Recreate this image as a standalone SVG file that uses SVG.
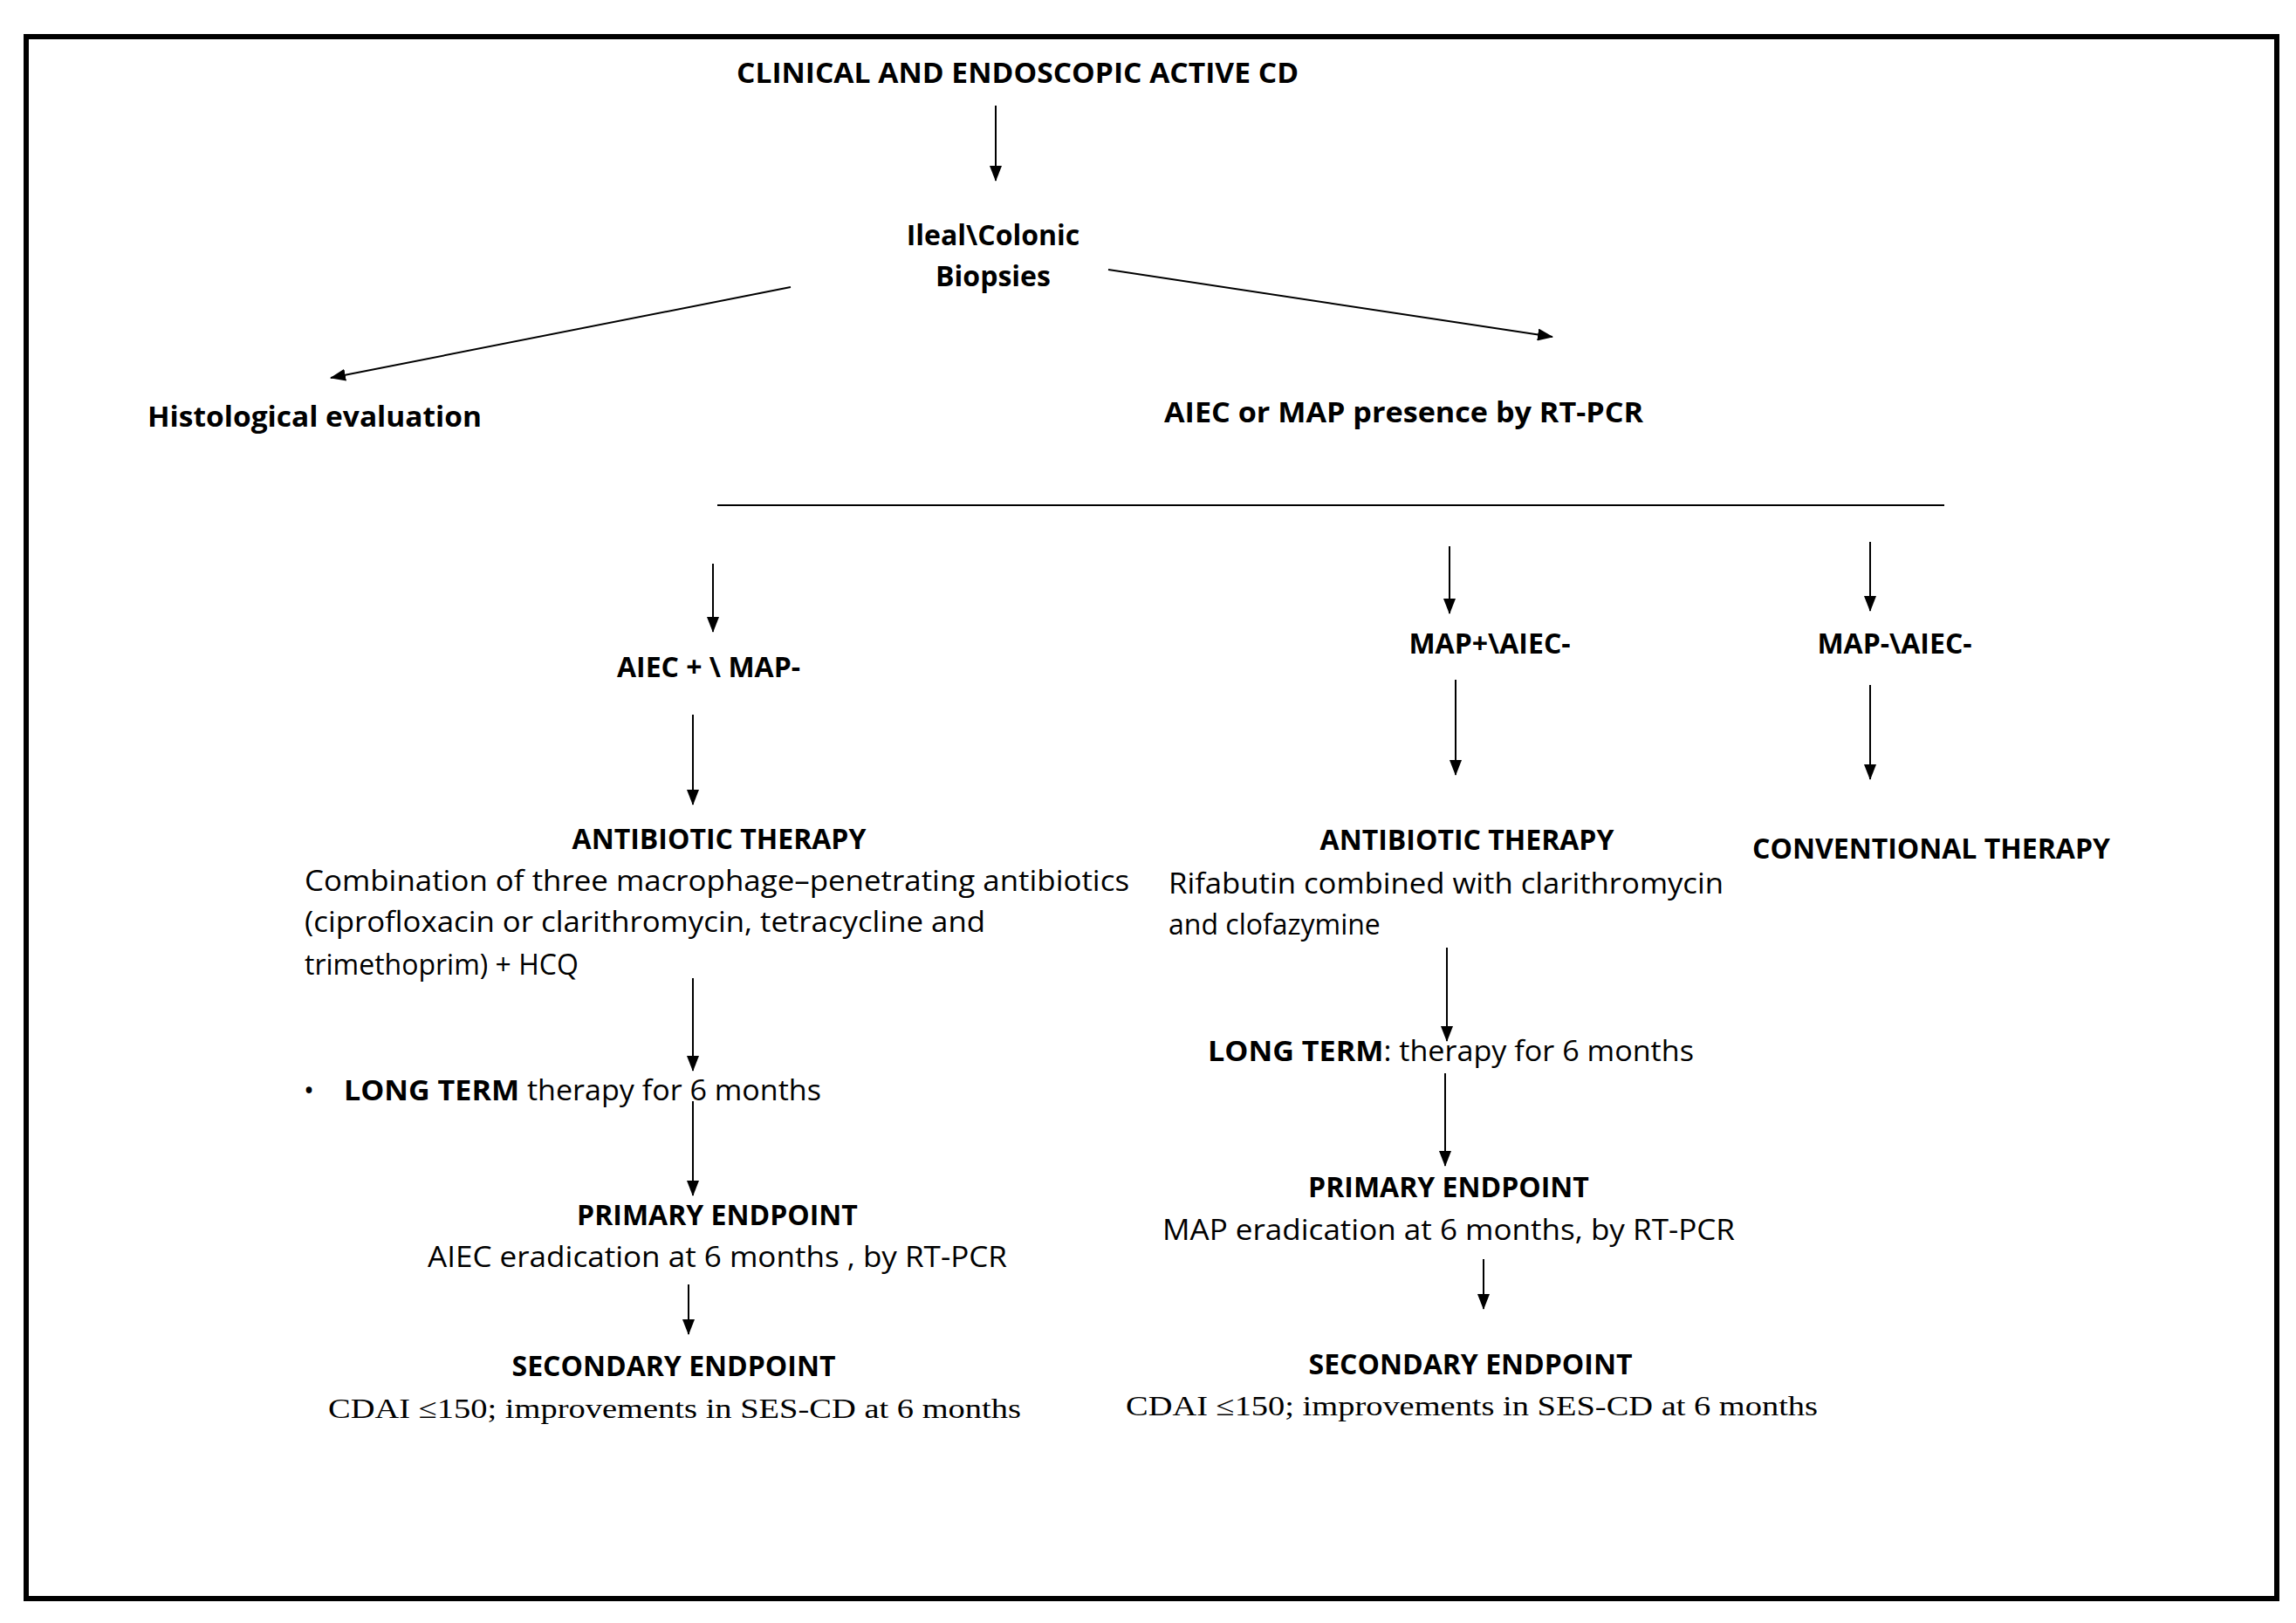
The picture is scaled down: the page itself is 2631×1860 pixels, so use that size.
<svg xmlns="http://www.w3.org/2000/svg" width="2631" height="1860" viewBox="0 0 2631 1860">
<defs>
<marker id="ah" markerWidth="18" markerHeight="14" refX="17" refY="7" orient="auto" markerUnits="userSpaceOnUse" viewBox="0 0 18 14"><path d="M0,0 L18,7 L0,14 z" fill="#000"/></marker>
</defs>
<style>
text{font-family:"Open Sans","Liberation Sans",sans-serif;font-size:32px;fill:#000}
.b{font-weight:bold}
.s{font-family:"Liberation Serif","Times New Roman",serif}
.c{stroke:#000;stroke-width:2;fill:none;marker-end:url(#ah)}
</style>
<rect width="2631" height="1860" fill="#fff"/>
<rect x="30" y="42" width="2579" height="1790" fill="none" stroke="#000" stroke-width="6"/>
<g id="connectors">
<path class="c" d="M1141,121 V207"/>
<path class="c" d="M906,329 L379,433"/>
<path class="c" d="M1270,309 L1779,386"/>
<path d="M822,579 H2228" stroke="#000" stroke-width="2"/>
<path class="c" d="M817,646 V724"/>
<path class="c" d="M1661,626 V703"/>
<path class="c" d="M2143,621 V700"/>
<path class="c" d="M794,819 V922"/>
<path class="c" d="M1668,779 V888"/>
<path class="c" d="M2143,785 V893"/>
<path class="c" d="M794,1121 V1227"/>
<path class="c" d="M794,1262 V1370"/>
<path class="c" d="M1658,1086 V1193"/>
<path class="c" d="M1656,1230 V1336"/>
<path class="c" d="M789,1472 V1529"/>
<path class="c" d="M1700,1443 V1500"/>
</g>
<g id="n-title"><text class="b" x="1166" y="95" text-anchor="middle" textLength="644" lengthAdjust="spacingAndGlyphs">CLINICAL AND ENDOSCOPIC ACTIVE CD</text></g>
<g id="n-biopsies"><text class="b" x="1138" y="281" text-anchor="middle">Ileal\Colonic</text><text class="b" x="1138" y="328" text-anchor="middle">Biopsies</text></g>
<g id="n-histo"><text class="b" x="169" y="489" textLength="383" lengthAdjust="spacingAndGlyphs">Histological evaluation</text></g>
<g id="n-pcr"><text class="b" x="1334" y="484" textLength="549" lengthAdjust="spacingAndGlyphs">AIEC or MAP presence by RT-PCR</text></g>
<g id="n-aiec"><text class="b" x="812" y="776" text-anchor="middle">AIEC + \ MAP-</text></g>
<g id="n-map"><text class="b" x="1707" y="749" text-anchor="middle">MAP+\AIEC-</text></g>
<g id="n-neg"><text class="b" x="2171" y="749" text-anchor="middle">MAP-\AIEC-</text></g>
<g id="n-abx1">
<text class="b" x="824" y="973" text-anchor="middle">ANTIBIOTIC THERAPY</text>
<text x="349" y="1021" textLength="945" lengthAdjust="spacingAndGlyphs">Combination of three macrophage–penetrating antibiotics</text>
<text x="349" y="1068" textLength="780" lengthAdjust="spacingAndGlyphs">(ciprofloxacin or clarithromycin, tetracycline and</text>
<text x="349" y="1117">trimethoprim)  + HCQ</text>
</g>
<g id="n-abx2">
<text class="b" x="1681" y="974" text-anchor="middle">ANTIBIOTIC THERAPY</text>
<text x="1339" y="1024" textLength="636" lengthAdjust="spacingAndGlyphs">Rifabutin combined  with clarithromycin</text>
<text x="1339" y="1071">and clofazymine</text>
</g>
<g id="n-conv"><text class="b" x="2213" y="984" text-anchor="middle">CONVENTIONAL THERAPY</text></g>
<g id="n-lt1"><text x="348" y="1261">•</text><text x="394" y="1261" textLength="547" lengthAdjust="spacingAndGlyphs"><tspan class="b">LONG TERM</tspan> therapy for 6 months</text></g>
<g id="n-lt2"><text x="1384" y="1216" textLength="557" lengthAdjust="spacingAndGlyphs"><tspan class="b">LONG TERM</tspan>: therapy for 6 months</text></g>
<g id="n-pe1"><text class="b" x="822" y="1404" text-anchor="middle">PRIMARY ENDPOINT</text><text x="822" y="1452" text-anchor="middle" textLength="664" lengthAdjust="spacingAndGlyphs">AIEC eradication at 6 months , by RT-PCR</text></g>
<g id="n-pe2"><text class="b" x="1660" y="1372" text-anchor="middle">PRIMARY ENDPOINT</text><text x="1660" y="1421" text-anchor="middle" textLength="656" lengthAdjust="spacingAndGlyphs">MAP eradication at 6 months, by RT-PCR</text></g>
<g id="n-se1"><text class="b" x="772" y="1577" text-anchor="middle">SECONDARY ENDPOINT</text><text class="s" x="376" y="1625" textLength="794" lengthAdjust="spacingAndGlyphs">CDAI ≤150; improvements  in  SES-CD at 6 months</text></g>
<g id="n-se2"><text class="b" x="1685" y="1575" text-anchor="middle">SECONDARY ENDPOINT</text><text class="s" x="1290" y="1622" textLength="793" lengthAdjust="spacingAndGlyphs">CDAI ≤150; improvements  in  SES-CD at 6 months</text></g>
</svg>
